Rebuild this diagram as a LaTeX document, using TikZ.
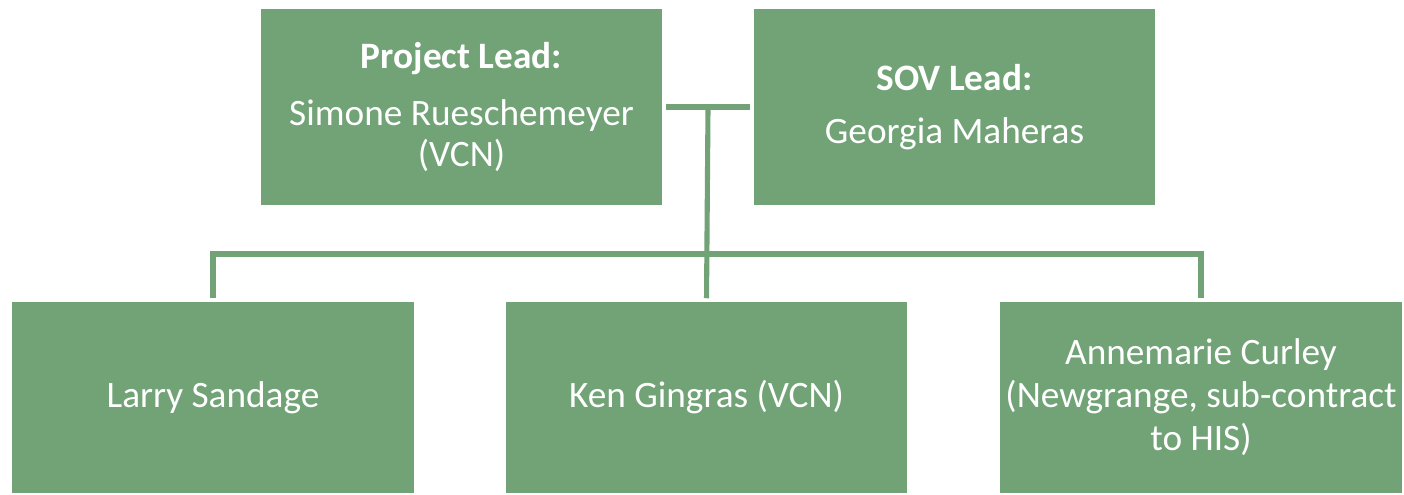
\documentclass[tikz,border=0pt]{standalone}
\usepackage{fontspec}
\setmainfont{Carlito}
\usetikzlibrary{calc}
\definecolor{orggreen}{RGB}{113,163,119}

\begin{document}
\begin{tikzpicture}[
  x=.01cm,y=-.01cm,
  every node/.style={font=\fontsize{10.6}{11.6}\selectfont,text=white},
  box/.style={rectangle,fill=orggreen,draw=white,line width=.4pt,
    minimum width=4.03cm,minimum height=1.98cm,align=center,inner sep=0pt},
  lowbox/.style={box,minimum height=1.93cm},
  link/.style={draw=orggreen,line width=1.45pt,shorten <=.02cm,shorten >=.02cm}
]
\path[use as bounding box] (0,0) rectangle (1404,494);
\fill[white] (0,0) rectangle (1404,494);

% Leads on the top row
\node[box] (lead) at (461.5,107) {\textbf{Project Lead:}\\[4.8pt]
  Simone Rueschemeyer\\(VCN)};
\node[box] (sov) at (954.5,107) {\textbf{SOV Lead:}\\[3.6pt]Georgia Maheras};

% Team members
\node[lowbox] (sandage) at (213,397.5) {Larry Sandage};
\node[lowbox] (gingras) at (706.5,397.5) {Ken Gingras (VCN)};
\node[lowbox] (curley) at (1201,397.5) {Annemarie Curley\\[.6pt]
  (Newgrange, sub-contract\\[.6pt]to HIS)};

% Links between the two rows
\coordinate (hub) at ($(lead.east)!.5!(sov.west)$);
\coordinate (bar) at (0,254);
\draw[link] (lead.east) -- (sov.west);
\draw[link,shorten <=0pt] (hub) -- (gingras.north);
\draw[link] (sandage.north) -- (sandage.north |- bar)
  -- (curley.north |- bar) -- (curley.north);
\end{tikzpicture}
\end{document}
